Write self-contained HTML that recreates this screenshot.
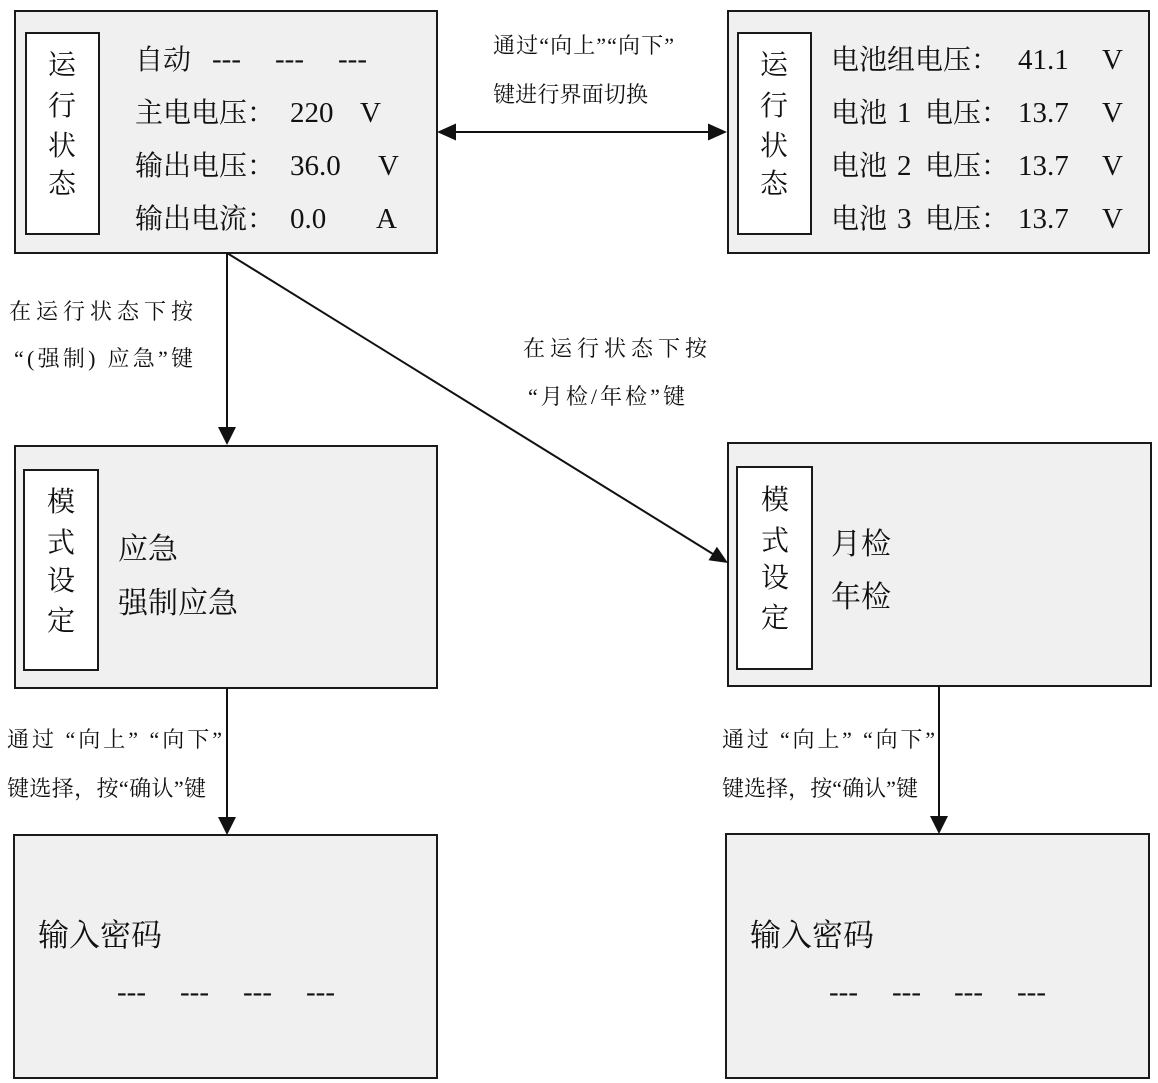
<!DOCTYPE html>
<html>
<head>
<meta charset="utf-8">
<style>
html,body{margin:0;padding:0;background:#fff;}
svg{display:block;}
text{font-family:"Liberation Serif","Noto Serif CJK SC",serif;fill:#111;}
</style>
</head>
<body>
<svg width="1158" height="1083" viewBox="0 0 1158 1083" xmlns="http://www.w3.org/2000/svg">
<rect x="0" y="0" width="1158" height="1083" fill="#fff"/>
<g fill="#f0f0f0" stroke="#1a1a1a" stroke-width="2">
<rect x="15" y="11" width="422" height="242"/>
<rect x="728" y="11" width="421" height="242"/>
<rect x="15" y="446" width="422" height="242"/>
<rect x="728" y="443" width="423" height="243"/>
<rect x="14" y="835" width="423" height="243"/>
<rect x="726" y="834" width="423" height="244"/>
</g>
<g fill="#fff" stroke="#1a1a1a" stroke-width="2">
<rect x="26" y="33" width="73" height="201"/>
<rect x="738" y="33" width="73" height="201"/>
<rect x="24" y="470" width="74" height="200"/>
<rect x="737" y="467" width="75" height="202"/>
</g>
<g stroke="#111" stroke-width="2" fill="none">
<line x1="455" y1="132" x2="709" y2="132"/>
<line x1="227" y1="253" x2="227" y2="430"/>
<line x1="227" y1="253" x2="713" y2="554"/>
<line x1="227" y1="688" x2="227" y2="820"/>
<line x1="939" y1="686" x2="939" y2="819"/>
</g>
<g fill="#111">
<polygon points="437,132 456,123.5 456,140.5"/>
<polygon points="727,132 708,123.5 708,140.5"/>
<polygon points="227,445 218,427 236,427"/>
<polygon points="728,563 708.5,560.3 716.9,546.7"/>
<polygon points="227,835 218,817 236,817"/>
<polygon points="939,834 930,816 948,816"/>
</g>

<!-- Box 1 -->
<g font-size="28">
<text x="62" y="74" text-anchor="middle">运</text>
<text x="62" y="115" text-anchor="middle">行</text>
<text x="62" y="155" text-anchor="middle">状</text>
<text x="62" y="193" text-anchor="middle">态</text>
<text x="135" y="69">自动</text>
<text x="135" y="122">主电电压：</text>
<text x="135" y="175">输出电压：</text>
<text x="135" y="228">输出电流：</text>
</g>
<g font-size="29">
<text x="212" y="68">---</text>
<text x="275" y="68">---</text>
<text x="338" y="68">---</text>
<text x="290" y="122">220</text>
<text x="360" y="122">V</text>
<text x="290" y="175">36.0</text>
<text x="378" y="175">V</text>
<text x="290" y="228">0.0</text>
<text x="376" y="228">A</text>
</g>

<!-- Box 2 -->
<g font-size="28">
<text x="774" y="74" text-anchor="middle">运</text>
<text x="774" y="115" text-anchor="middle">行</text>
<text x="774" y="155" text-anchor="middle">状</text>
<text x="774" y="193" text-anchor="middle">态</text>
<text x="831" y="69">电池组电压：</text>
<text x="831" y="122">电池</text>
<text x="925" y="122">电压：</text>
<text x="831" y="175">电池</text>
<text x="925" y="175">电压：</text>
<text x="831" y="228">电池</text>
<text x="925" y="228">电压：</text>
</g>
<g font-size="29">
<text x="1018" y="69">41.1</text>
<text x="1102" y="69">V</text>
<text x="897" y="122">1</text>
<text x="1018" y="122">13.7</text>
<text x="1102" y="122">V</text>
<text x="897" y="175">2</text>
<text x="1018" y="175">13.7</text>
<text x="1102" y="175">V</text>
<text x="897" y="228">3</text>
<text x="1018" y="228">13.7</text>
<text x="1102" y="228">V</text>
</g>

<!-- Box 3 -->
<g font-size="28">
<text x="61" y="511" text-anchor="middle">模</text>
<text x="61" y="552" text-anchor="middle">式</text>
<text x="61" y="590" text-anchor="middle">设</text>
<text x="61" y="630" text-anchor="middle">定</text>
</g>
<g font-size="30">
<text x="118" y="559">应急</text>
<text x="118" y="613">强制应急</text>
</g>

<!-- Box 4 -->
<g font-size="28">
<text x="775" y="509" text-anchor="middle">模</text>
<text x="775" y="550" text-anchor="middle">式</text>
<text x="775" y="587" text-anchor="middle">设</text>
<text x="775" y="627" text-anchor="middle">定</text>
</g>
<g font-size="30">
<text x="831" y="554">月检</text>
<text x="831" y="607">年检</text>
</g>

<!-- Box 5 / 6 -->
<g font-size="31">
<text x="38" y="946">输入密码</text>
<text x="750" y="946">输入密码</text>
</g>
<g font-size="29">
<text x="117" y="1001">---</text>
<text x="180" y="1001">---</text>
<text x="243" y="1001">---</text>
<text x="306" y="1001">---</text>
<text x="829" y="1001">---</text>
<text x="892" y="1001">---</text>
<text x="954" y="1001">---</text>
<text x="1017" y="1001">---</text>
</g>

<!-- Labels -->
<g font-size="22">
<text x="493" y="53" textLength="181" lengthAdjust="spacing">通过“向上”“向下”</text>
<text x="493" y="102" textLength="155" lengthAdjust="spacing">键进行界面切换</text>
<text x="9" y="319" textLength="184" lengthAdjust="spacing">在运行状态下按</text>
<text x="14" y="366" textLength="179" lengthAdjust="spacing">“(强制) 应急”键</text>
<text x="523" y="356" textLength="184" lengthAdjust="spacing">在运行状态下按</text>
<text x="528" y="404" textLength="157" lengthAdjust="spacing">“月检/年检”键</text>
<text x="7" y="747" textLength="215" lengthAdjust="spacing">通过 “向上” “向下”</text>
<text x="7" y="796" textLength="199" lengthAdjust="spacing">键选择，按“确认”键</text>
<text x="722" y="747" textLength="213" lengthAdjust="spacing">通过 “向上” “向下”</text>
<text x="722" y="796" textLength="196" lengthAdjust="spacing">键选择，按“确认”键</text>
</g>
</svg>
</body>
</html>
